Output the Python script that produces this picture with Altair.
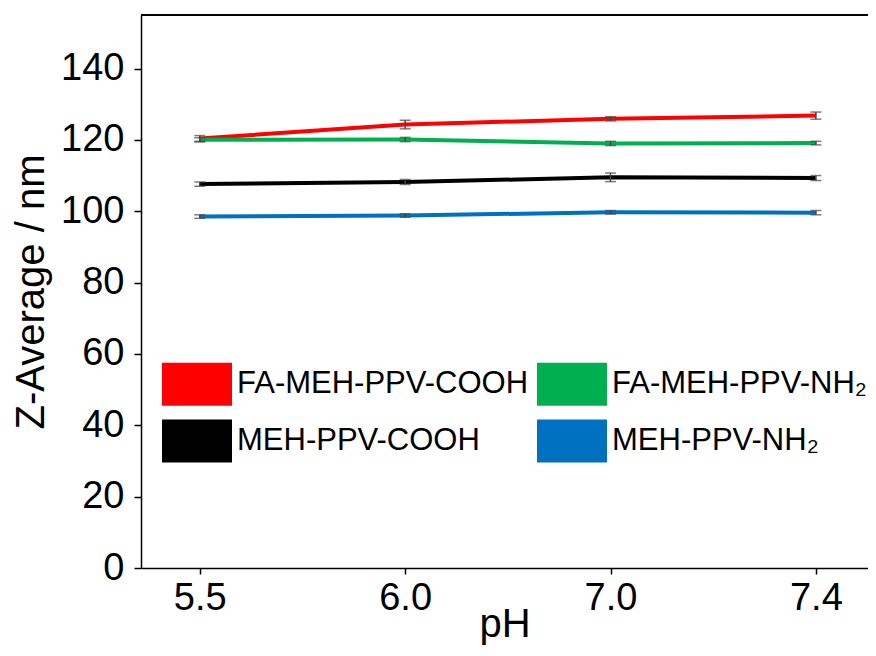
import altair as alt
import pandas as pd

ph_labels = ["5.5", "6.0", "7.0", "7.4"]
series_names = ["FA-MEH-PPV-COOH", "FA-MEH-PPV-NH₂", "MEH-PPV-COOH", "MEH-PPV-NH₂"]
series_colors = ["#FF0000", "#00B050", "#000000", "#0070C0"]

red_vals = [120.4, 124.3, 125.9, 126.8]
red_err = [0.8, 1.2, 0.6, 1.0]
green_vals = [120.0, 120.1, 119.0, 119.1]
green_err = [0.6, 0.6, 0.6, 0.5]
black_vals = [107.6, 108.2, 109.5, 109.3]
black_err = [0.6, 0.7, 1.2, 0.7]
blue_vals = [98.5, 98.8, 99.7, 99.6]
blue_err = [0.5, 0.5, 0.5, 0.6]

y_ticks = [0, 20, 40, 60, 80, 100, 120, 140]

rows = []
for name, vals, errs in zip(series_names,
                            [red_vals, green_vals, black_vals, blue_vals],
                            [red_err, green_err, black_err, blue_err]):
    for ph, v, e in zip(ph_labels, vals, errs):
        rows.append({"pH": ph, "series": name, "z": v, "lo": v - e, "hi": v + e})
df = pd.DataFrame(rows)

FONT = "Liberation Sans"

x_enc = alt.X("pH:O", scale=alt.Scale(type="point", padding=0.27, align=0.53, domain=ph_labels),
              axis=alt.Axis(title="pH", labelAngle=0, labelFontSize=38, titleFontSize=40,
                            labelFont=FONT, titleFont=FONT, labelColor="black", titleColor="black",
                            titleFontWeight="normal", tickSize=6, labelPadding=5,
                            titleY=68, titleBaseline="alphabetic",
                            domainColor="black", tickColor="black", domainWidth=1.5, tickWidth=1.5))
y_scale = alt.Scale(domain=[0, 155], nice=False)
y_axis = alt.Axis(title="Z-Average / nm", values=y_ticks, labelFontSize=38, titleFontSize=40,
                  labelFont=FONT, titleFont=FONT, labelColor="black", titleColor="black",
                  titleFontWeight="normal", tickSize=7, labelPadding=10, titlePadding=9,
                  grid=False, domainColor="black", tickColor="black", domainWidth=1.5, tickWidth=1.5)

color_scale = alt.Scale(domain=series_names, range=series_colors)

base = alt.Chart(df)

legend_spec = alt.Legend(title=None, orient="none", legendX=21, legendY=334, direction="horizontal",
                         columns=2, symbolType="M-1,-0.614H1V0.614H-1Z",
                         symbolSize=4900, symbolStrokeWidth=0,
                         labelFontSize=31, labelFont=FONT, labelColor="black",
                         labelOffset=5, rowPadding=-15, columnPadding=8, labelLimit=400)

legend_pts = base.mark_square(size=1, opacity=1).encode(
    x=x_enc,
    y=alt.Y("z:Q", scale=y_scale, axis=y_axis),
    color=alt.Color("series:N", scale=color_scale, legend=legend_spec),
)

lines = base.mark_line(strokeWidth=4).encode(
    x=alt.X("pH:O"),
    y=alt.Y("z:Q"),
    stroke=alt.Stroke("series:N", scale=color_scale, legend=None),
)

bars = base.mark_rule(color="#444444", strokeWidth=1.5).encode(
    x=alt.X("pH:O"),
    y=alt.Y("lo:Q"),
    y2="hi:Q",
    detail="series:N",
)
caps_lo = base.mark_tick(color="#444444", thickness=1.5, size=11, orient="horizontal").encode(
    x=alt.X("pH:O"), y=alt.Y("lo:Q"))
caps_hi = base.mark_tick(color="#444444", thickness=1.5, size=11, orient="horizontal").encode(
    x=alt.X("pH:O"), y=alt.Y("hi:Q"))

top_rule = alt.Chart(df).mark_rule(color="black", strokeWidth=1.5).encode(y=alt.datum(155))

chart = alt.layer(legend_pts, lines, bars, caps_lo, caps_hi, top_rule).properties(
    width=727, height=553,
    autosize=alt.AutoSizeParams(type="none"),
    padding={"left": 133, "top": 7, "right": 0, "bottom": 78},
).configure_view(stroke=None)

chart.save("out.html", embed_options={"renderer": "svg", "actions": False})
